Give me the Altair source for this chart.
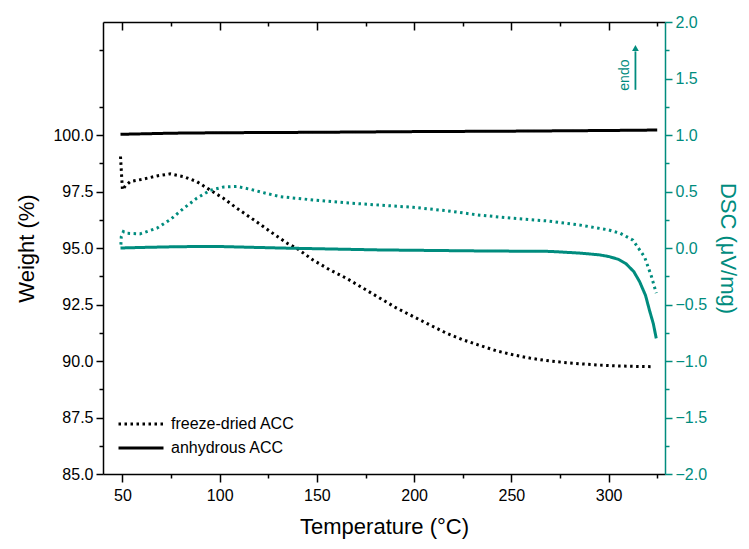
import altair as alt
import pandas as pd

TEAL = "#008C7E"
FONT = "Liberation Sans"

# ---- data ----
samples = ["freeze-dried ACC", "anhydrous ACC"]

# TGA weight (%), freeze-dried ACC
w_fd_T = [49.0, 49.5, 50.0, 51.5, 54, 60.8, 67.7, 74.5, 81.4, 88.2, 95, 101.9, 108.8,
          115.6, 122.4, 129.3, 135.3, 139.6, 148, 156.7, 165.2, 173.8, 182.4, 191,
          199.5, 208, 216.6, 225, 233.7, 242.3, 251, 259.4, 268, 276.5, 285, 295,
          305, 315, 322]
w_fd = [99.05, 98.3, 97.57, 97.75, 97.94, 98.05, 98.19, 98.28, 98.16, 97.94, 97.57,
        97.2, 96.76, 96.36, 95.95, 95.53, 95.18, 94.99, 94.47, 94.03, 93.66, 93.22,
        92.78, 92.34, 91.97, 91.6, 91.23, 90.94, 90.69, 90.45, 90.27, 90.13, 90.02,
        89.94, 89.88, 89.82, 89.78, 89.76, 89.75]

# TGA weight (%), anhydrous ACC
w_an_T = [49, 75, 100, 150, 200, 250, 300, 325]
w_an = [100.03, 100.08, 100.1, 100.12, 100.15, 100.17, 100.2, 100.22]

# DSC (uV/mg), freeze-dried ACC
d_fd_T = [49.2, 49.4, 50.5, 52.3, 59, 67.7, 74.5, 81.4, 88.2, 95, 102, 108.8, 115.6,
          122.4, 131, 148, 165, 182, 199.5, 216.7, 234, 251, 268, 285, 300, 306,
          312.5, 318.5, 322, 324.5]
d_fd = [0.03, 0.10, 0.145, 0.13, 0.125, 0.175, 0.25, 0.35, 0.44, 0.51, 0.54, 0.545,
        0.52, 0.49, 0.455, 0.425, 0.40, 0.38, 0.36, 0.33, 0.29, 0.263, 0.24, 0.204,
        0.16, 0.13, 0.07, -0.08, -0.25, -0.40]

# DSC (uV/mg), anhydrous ACC
d_an_T = [49, 60, 80, 100, 131, 182, 234, 270, 285, 295, 300, 305, 309, 313, 316,
          319, 321, 323, 324.5]
d_an = [0.0, 0.005, 0.012, 0.013, 0.0, -0.017, -0.026, -0.03, -0.045, -0.06, -0.075,
        -0.1, -0.14, -0.21, -0.3, -0.42, -0.55, -0.67, -0.80]

# axes ticks
x_major = [50, 100, 150, 200, 250, 300]
x_minor = [75, 125, 175, 225, 275, 325]
w_major = [85, 87.5, 90, 92.5, 95, 97.5, 100]
w_minor = [86.25, 88.75, 91.25, 93.75, 96.25, 98.75, 101.25, 103.75]
d_major = [-2, -1.5, -1, -0.5, 0, 0.5, 1, 1.5, 2]
d_minor = [-1.75, -1.25, -0.75, -0.25, 0.25, 0.75, 1.25, 1.75]

X_DOM = [40, 329]
W_DOM = [85, 105]
D_DOM = [-2, 2]

# endo arrow annotation (data coordinates)
endo_T = [313.8]
endo_y0 = [1.40]
endo_y1 = [1.74]
endo_tip = [1.77]
endo_text_T = [308.5]
endo_text_y = [1.53]

PW, PH = 562, 452

weight_df = pd.concat([
    pd.DataFrame({"T": w_fd_T, "v": w_fd, "sample": samples[0]}),
    pd.DataFrame({"T": w_an_T, "v": w_an, "sample": samples[1]}),
])
dsc_df = pd.concat([
    pd.DataFrame({"T": d_fd_T, "v": d_fd, "sample": samples[0]}),
    pd.DataFrame({"T": d_an_T, "v": d_an, "sample": samples[1]}),
])
helper_df = pd.DataFrame({"T": X_DOM, "w": W_DOM, "d": D_DOM})
endo_df = pd.DataFrame({"T": endo_T, "y0": endo_y0, "y1": endo_y1, "tip": endo_tip,
                        "tT": endo_text_T, "ty": endo_text_y, "label": ["endo"]})

xs = alt.Scale(domain=X_DOM, nice=False, zero=False)
ws = alt.Scale(domain=W_DOM, nice=False, zero=False)
ds = alt.Scale(domain=D_DOM, nice=False, zero=False)

dash_scale = alt.Scale(domain=samples, range=[[2.5, 3.5], [1, 0]])
legend = alt.Legend(title=None, orient="none", legendX=14, legendY=393,
                    symbolType="stroke", symbolSize=2025, symbolStrokeWidth=3,
                    symbolStrokeColor="black", labelFontSize=16, labelFont=FONT,
                    labelColor="black", labelOffset=6, clipHeight=18, rowPadding=6)

# layer 1: weight lines, bottom major x axis, left major y axis
l1 = alt.Chart(weight_df).mark_line(color="black", strokeWidth=3).encode(
    x=alt.X("T:Q", scale=xs, axis=alt.Axis(
        title="Temperature (°C)", values=x_major, orient="bottom", tickSize=8,
        labelFontSize=16, titleFontSize=22, titlePadding=13, labelPadding=5,
        grid=False, domainColor="black", tickColor="black", labelColor="black",
        titleColor="black")),
    y=alt.Y("v:Q", scale=ws, axis=alt.Axis(
        title="Weight (%)", values=w_major, format=".1f", orient="left", tickSize=7,
        labelFontSize=16, titleFontSize=22, titlePadding=14, labelPadding=3,
        grid=False, domainColor="black", tickColor="black", labelColor="black",
        titleColor="black")),
    strokeDash=alt.StrokeDash("sample:N", scale=dash_scale, legend=legend),
)

# layer 2: DSC lines, top inward major ticks, right major y axis
l2 = alt.Chart(dsc_df).mark_line(color=TEAL, strokeWidth=3).encode(
    x=alt.X("T:Q", scale=xs, axis=alt.Axis(
        title=None, values=x_major, orient="bottom", offset=-PH, tickSize=8,
        labels=False, grid=False, domainColor="black", tickColor="black")),
    y=alt.Y("v:Q", scale=ds, axis=alt.Axis(
        title="DSC (μV/mg)", values=d_major, format=".1f", orient="right", tickSize=7,
        labelFontSize=16, titleFontSize=22, titlePadding=9, labelPadding=3,
        grid=False, domainColor=TEAL, tickColor=TEAL, labelColor=TEAL,
        titleColor=TEAL)),
    strokeDash=alt.StrokeDash("sample:N", scale=dash_scale, legend=legend),
)

# layer 3: minor ticks bottom / left
l3 = alt.Chart(helper_df).mark_point(opacity=0).encode(
    x=alt.X("T:Q", scale=xs, axis=alt.Axis(
        title=None, values=x_minor, orient="bottom", tickSize=4, labels=False,
        domain=False, grid=False, tickColor="black")),
    y=alt.Y("w:Q", scale=ws, axis=alt.Axis(
        title=None, values=w_minor, orient="left", tickSize=4, labels=False,
        domain=False, grid=False, tickColor="black")),
)

# layer 4: minor ticks top (inward) / right
l4 = alt.Chart(helper_df).mark_point(opacity=0).encode(
    x=alt.X("T:Q", scale=xs, axis=alt.Axis(
        title=None, values=x_minor, orient="bottom", offset=-PH, tickSize=4,
        labels=False, domain=False, grid=False, tickColor="black")),
    y=alt.Y("d:Q", scale=ds, axis=alt.Axis(
        title=None, values=d_minor, orient="right", tickSize=4, labels=False,
        domain=False, grid=False, tickColor=TEAL)),
)

# layer 5: endo arrow
arrow = alt.Chart(endo_df).mark_rule(color=TEAL, strokeWidth=1.8).encode(
    x=alt.X("T:Q", scale=xs, axis=None),
    y=alt.Y("y0:Q", scale=ds, axis=None),
    y2="y1:Q",
)
tip = alt.Chart(endo_df).mark_point(shape="triangle-up", filled=True, color=TEAL,
                                    size=45, opacity=1).encode(
    x=alt.X("T:Q", scale=xs, axis=None),
    y=alt.Y("tip:Q", scale=ds, axis=None),
)
txt = alt.Chart(endo_df).mark_text(color=TEAL, fontSize=14, font=FONT, angle=270,
                                   align="center", baseline="middle").encode(
    x=alt.X("tT:Q", scale=xs, axis=None),
    y=alt.Y("ty:Q", scale=ds, axis=None),
    text="label:N",
)

chart = alt.layer(l1, l2, l3, l4, arrow, tip, txt).resolve_scale(
    x="independent", y="independent", strokeDash="shared"
).properties(
    width=PW, height=PH,
    padding={"left": 95, "top": 14, "right": 76, "bottom": 67},
    autosize=alt.AutoSizeParams(type="none"),
).configure(font=FONT, background="white").configure_view(stroke=None).configure_axis(
    labelFont=FONT, titleFont=FONT, titleFontWeight="normal", domainWidth=1.5,
    tickWidth=1.5,
)

chart.save("out.html", embed_options={"renderer": "svg", "actions": False})
